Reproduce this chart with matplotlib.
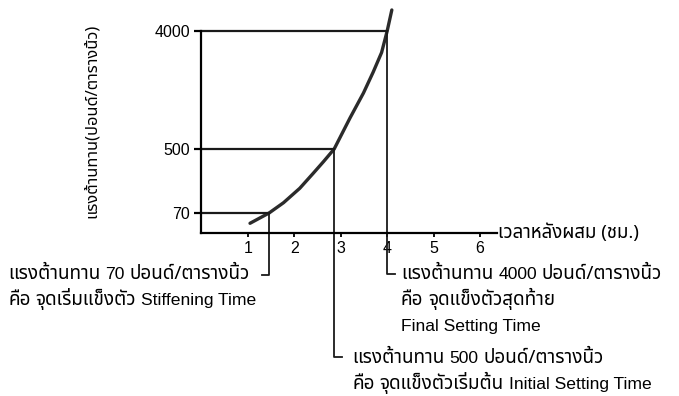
import numpy as np
import matplotlib
matplotlib.use("Agg")
import matplotlib.pyplot as plt

# curve (time in hours, strength in psi)
time_h = [1.05, 1.46, 1.77, 2.12, 2.41, 2.63, 2.86, 3.20, 3.49, 3.70, 3.88, 4.00, 4.10]
strength = [34, 70, 139, 236, 337, 415, 500, 1419, 2161, 2784, 3362, 4000, 4623]

# setting points
mark_time = [1.46, 2.86, 4.00]
mark_strength = [70, 500, 4000]
x_ticks = [1, 2, 3, 4, 5, 6]

THAI = ["Noto Sans Thai"]
LATIN = ["Liberation Sans"]
FS_T, FS_L = 13.6, 12.6
W, H = 679, 396

# schematic (non linear) strength axis
knots_v = [0, 70, 500, 4000, 8000]
knots_p = [0, 20, 84, 202, 337]
def fwd(v):
    return np.interp(v, knots_v, knots_p)
def inv(p):
    return np.interp(p, knots_p, knots_v)

fig = plt.figure(figsize=(W / 100, H / 100), dpi=100)
ax = fig.add_axes([201.2 / W, 163 / H, 295.7 / W, 229 / H])
ax.set_yscale("function", functions=(fwd, inv))
ax.set_xlim(0, 6.36)
ax.set_ylim(0, 4800)

col = "#1a1a1a"
ax.plot(time_h, strength, color="#2b2b2b", lw=2.4, solid_capstyle="round")

# level lines and drop lines
for t, s in zip(mark_time, mark_strength):
    ax.plot([0, t], [s, s], color=col, lw=1.6)
    ax.plot([t, t], [0, s], color=col, lw=1.3)

# brackets below the axis (x in data, y in axes fraction)
tr = ax.get_xaxis_transform()
bracket_y = [-0.183, -0.540, -0.178]
bracket_dx = [-0.15, 0.16, 0.16]
for t, by, dx in zip(mark_time, bracket_y, bracket_dx):
    ax.plot([t, t, t + dx], [0, by, by], color=col, lw=1.3, transform=tr, clip_on=False)

for sp in ["top", "right"]:
    ax.spines[sp].set_visible(False)
ax.spines["left"].set_bounds(0, 4000)
ax.spines["left"].set_linewidth(1.6)
ax.spines["bottom"].set_linewidth(1.6)

ax.set_xticks(x_ticks)
ax.set_yticks(mark_strength)
ax.set_yticklabels([str(v) for v in mark_strength])
ax.tick_params(axis="y", length=5, width=1.6, pad=3, labelsize=11.5)
ax.tick_params(axis="x", length=3, width=1.3, pad=3, labelsize=11.5)
for lab in ax.get_xticklabels() + ax.get_yticklabels():
    lab.set_family(LATIN)

fig.text(498 / W, 1 - 233 / H, "เวลาหลังผสม (ชม.)", family=THAI, fontsize=13.4,
         va="center", ha="left")
fig.text(92 / W, 1 - 121 / H, "แรงต้านทาน(ปอนด์/ตารางนิ้ว)", family=THAI,
         fontsize=11.8, fontweight="bold", rotation=90, ha="center", va="center")

renderer = fig.canvas.get_renderer()

def seg_line(x, y, parts, gap=5):
    # thai words and latin words drawn one after another on one baseline
    for s, latin in parts:
        t = fig.text(x / W, 1 - y / H, s, family=LATIN if latin else THAI,
                     fontsize=FS_L if latin else FS_T, va="baseline")
        x = t.get_window_extent(renderer).x1 + gap

seg_line(8, 279, [("แรงต้านทาน", 0), ("70", 1), ("ปอนด์/ตารางนิ้ว", 0)])
seg_line(8, 305, [("คือ", 0), ("จุดเริ่มแข็งตัว", 0), ("Stiffening Time", 1)])

seg_line(401, 279, [("แรงต้านทาน", 0), ("4000", 1), ("ปอนด์/ตารางนิ้ว", 0)])
seg_line(401, 305, [("คือ", 0), ("จุดแข็งตัวสุดท้าย", 0)])
seg_line(401, 331, [("Final Setting Time", 1)])

seg_line(352, 363, [("แรงต้านทาน", 0), ("500", 1), ("ปอนด์/ตารางนิ้ว", 0)])
seg_line(352, 389, [("คือ", 0), ("จุดแข็งตัวเริ่มต้น", 0), ("Initial Setting Time", 1)])

fig.savefig("out.png", dpi=100)
